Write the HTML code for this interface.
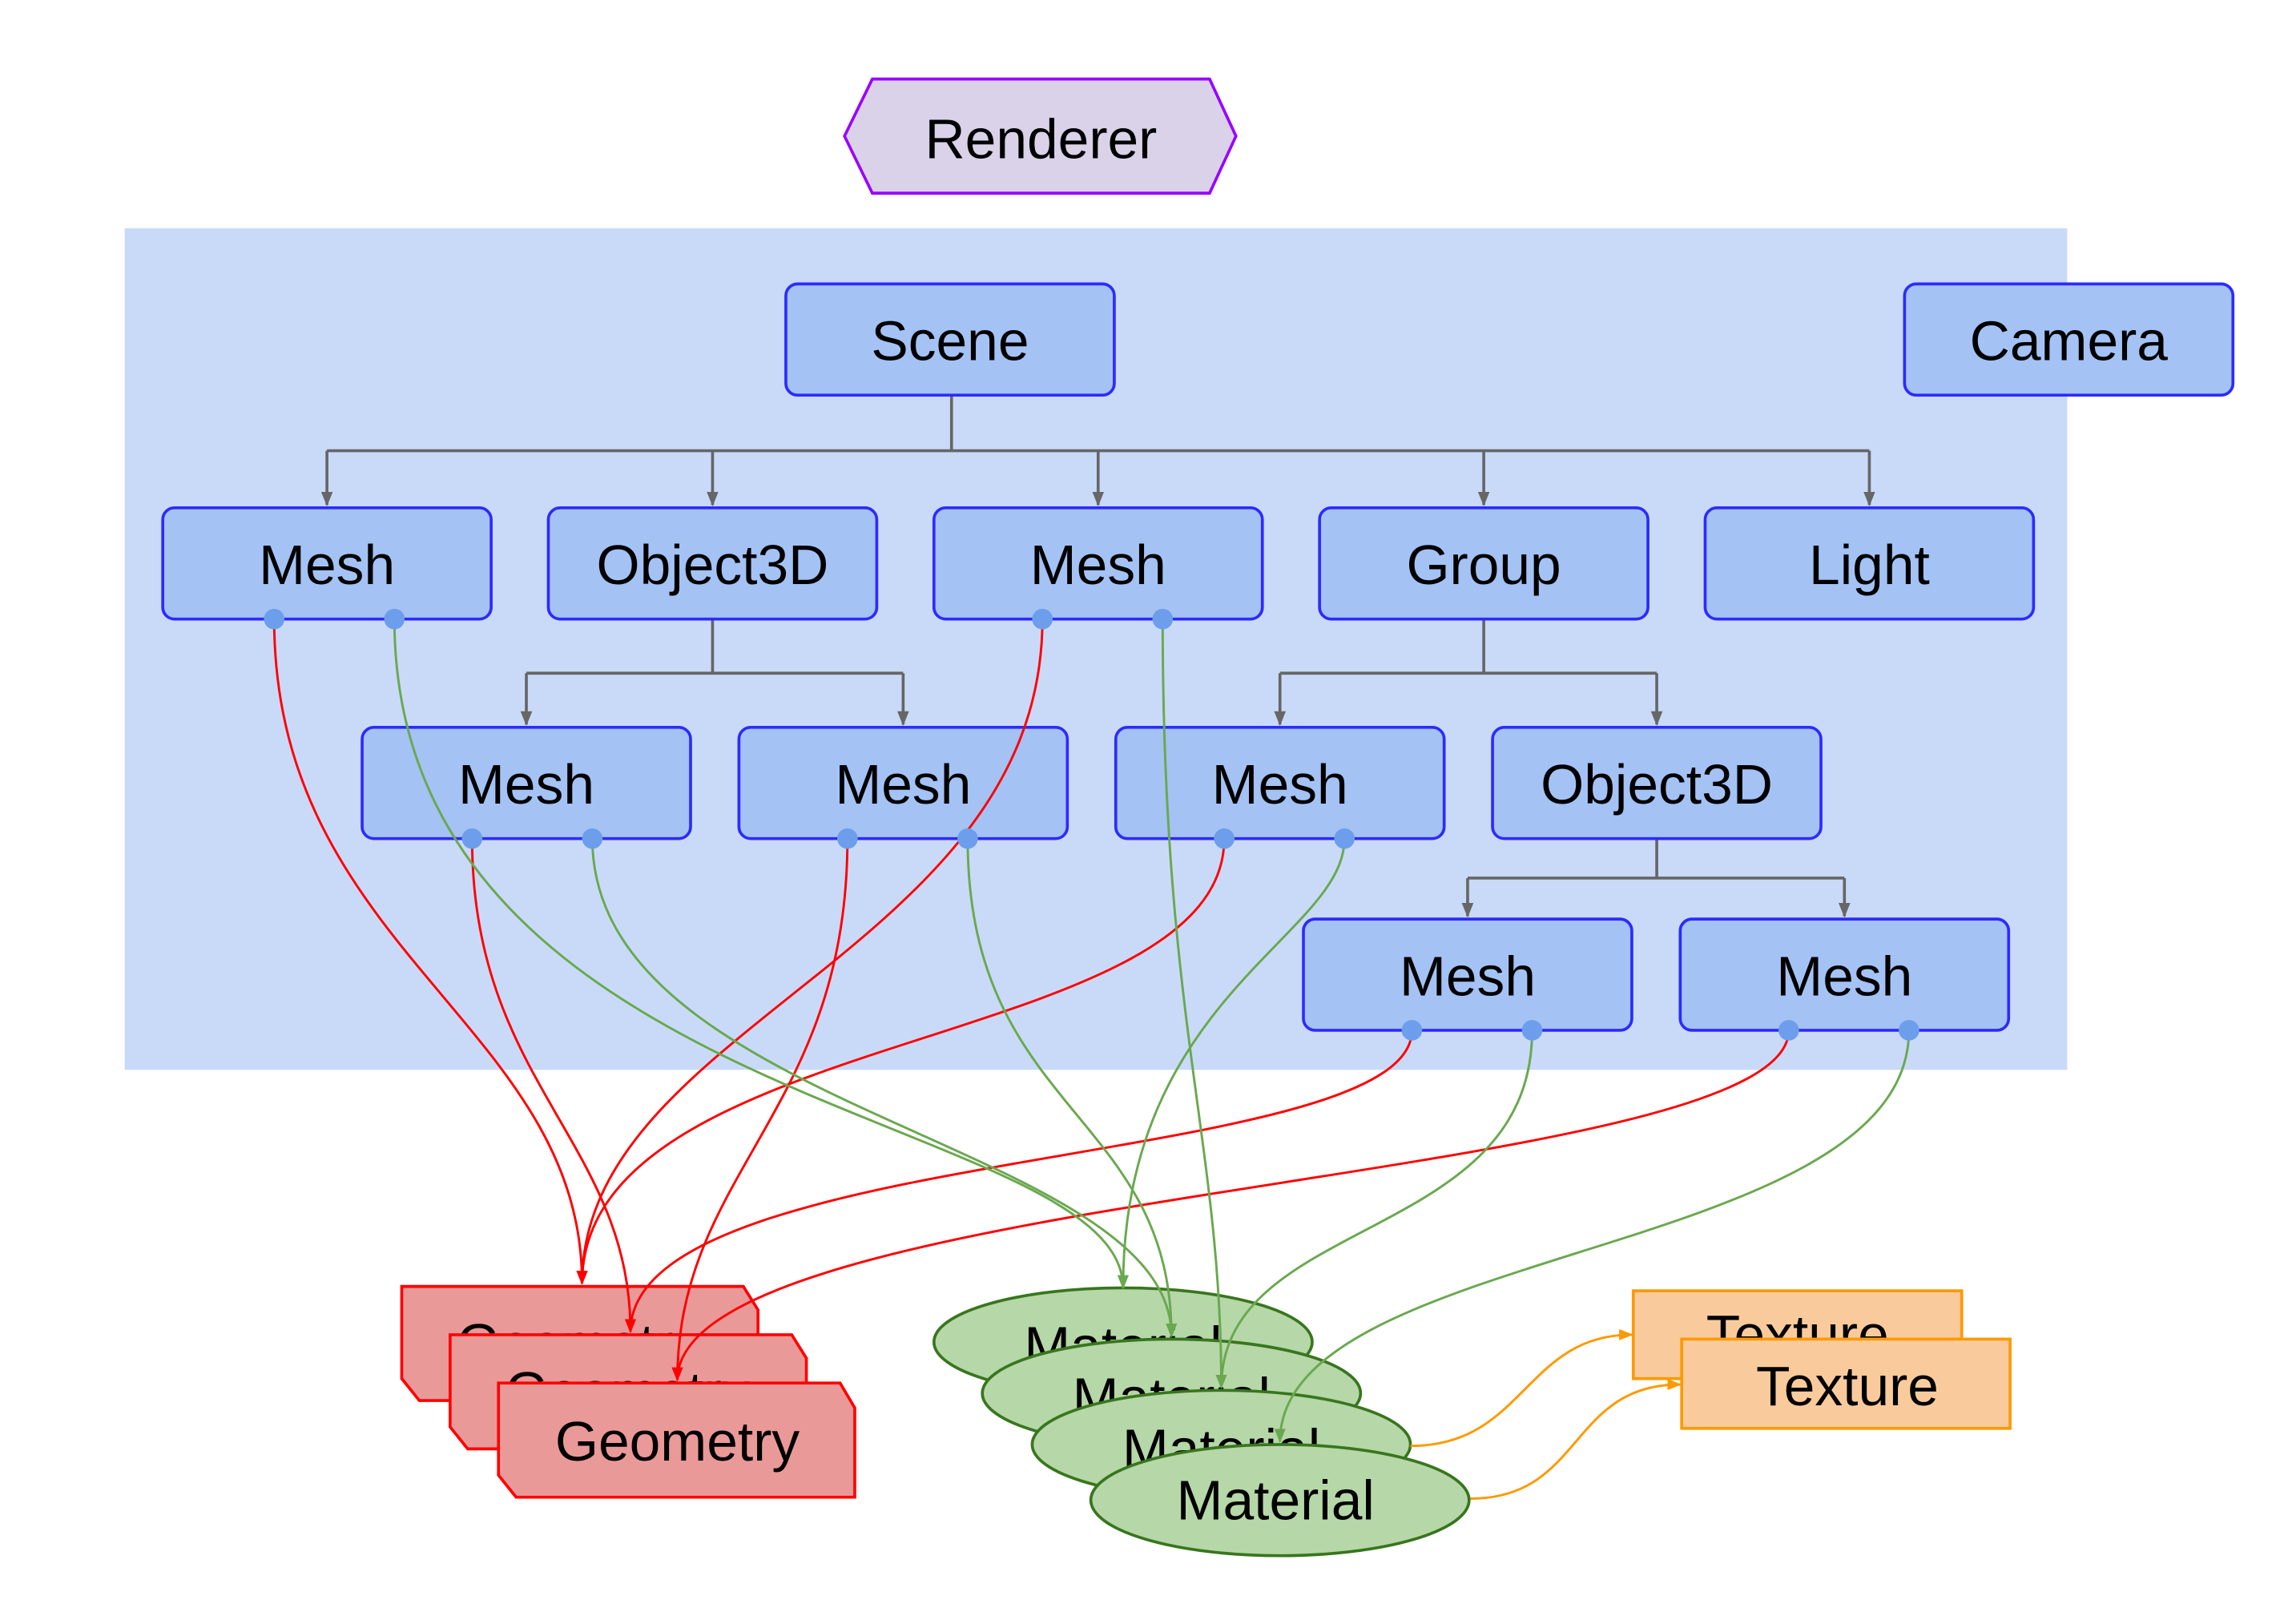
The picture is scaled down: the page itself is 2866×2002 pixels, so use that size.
<!DOCTYPE html>
<html><head><meta charset="utf-8"><style>
html,body{margin:0;padding:0;background:#fff;}
svg{display:block;}
text{font-family:"Liberation Sans",sans-serif;font-size:38px;fill:#000;stroke:none;text-anchor:middle;dominant-baseline:central;}
</style></head><body>
<svg width="2866" height="2002" viewBox="0 0 1566 1096" preserveAspectRatio="none" xmlns="http://www.w3.org/2000/svg">
<defs>
<marker id="ag" viewBox="0 0 10 10" refX="9" refY="5" markerWidth="5" markerHeight="5" orient="auto"><path d="M0,1 L10,5 L0,9z" fill="#666"/></marker>
<marker id="ar" viewBox="0 0 10 10" refX="9" refY="5" markerWidth="6" markerHeight="6" orient="auto"><path d="M0,1 L10,5 L0,9z" fill="#f00"/></marker>
<marker id="agr" viewBox="0 0 10 10" refX="9" refY="5" markerWidth="6" markerHeight="6" orient="auto"><path d="M0,1 L10,5 L0,9z" fill="#6aa84f"/></marker>
<marker id="ao" viewBox="0 0 10 10" refX="9" refY="5" markerWidth="6" markerHeight="6" orient="auto"><path d="M0,1 L10,5 L0,9z" fill="#f90"/></marker>
</defs>
<polygon points="595,54 825,54 843,93 825,132 595,132 576,93" fill="#d9d2e9" stroke="#9900ff" stroke-width="2"/>
<text x="710" y="95">Renderer</text>
<rect x="85" y="156" width="1325" height="575" fill="#c9daf8"/>
<g fill="none" stroke="#666" stroke-width="2">
<path d="M649,270 V308 M223,308 H1275"/>
<path d="M223,308 V345" marker-end="url(#ag)"/>
<path d="M486,308 V345" marker-end="url(#ag)"/>
<path d="M749,308 V345" marker-end="url(#ag)"/>
<path d="M1012,308 V345" marker-end="url(#ag)"/>
<path d="M1275,308 V345" marker-end="url(#ag)"/>
<path d="M486,423 V460 M359,460 H616 M1012,423 V460 M873,460 H1130 M1130,573 V600 M1001,600 H1258"/>
<path d="M359,460 V495" marker-end="url(#ag)"/>
<path d="M616,460 V495" marker-end="url(#ag)"/>
<path d="M873,460 V495" marker-end="url(#ag)"/>
<path d="M1130,460 V495" marker-end="url(#ag)"/>
<path d="M1001,600 V626" marker-end="url(#ag)"/>
<path d="M1258,600 V626" marker-end="url(#ag)"/>
</g>
<g fill="#a4c2f4" stroke="#2b2bff" stroke-width="2">
<rect x="536" y="194" width="224" height="76" rx="8"/>
<rect x="1299" y="194" width="224" height="76" rx="8"/>
<rect x="111" y="347" width="224" height="76" rx="8"/>
<rect x="374" y="347" width="224" height="76" rx="8"/>
<rect x="637" y="347" width="224" height="76" rx="8"/>
<rect x="900" y="347" width="224" height="76" rx="8"/>
<rect x="1163" y="347" width="224" height="76" rx="8"/>
<rect x="247" y="497" width="224" height="76" rx="8"/>
<rect x="504" y="497" width="224" height="76" rx="8"/>
<rect x="761" y="497" width="224" height="76" rx="8"/>
<rect x="1018" y="497" width="224" height="76" rx="8"/>
<rect x="889" y="628" width="224" height="76" rx="8"/>
<rect x="1146" y="628" width="224" height="76" rx="8"/>
</g>
<text x="648" y="233">Scene</text><text x="1411" y="233">Camera</text>
<text x="223" y="386">Mesh</text><text x="486" y="386">Object3D</text><text x="749" y="386">Mesh</text><text x="1012" y="386">Group</text><text x="1275" y="386">Light</text>
<text x="359" y="536">Mesh</text><text x="616" y="536">Mesh</text><text x="873" y="536">Mesh</text><text x="1130" y="536">Object3D</text>
<text x="1001" y="667">Mesh</text><text x="1258" y="667">Mesh</text>
<g fill="#ea9999" stroke="#f00" stroke-width="2">
<polygon points="274,879 507,879 517,895 517,957 286,957 274,942"/>
<text x="395" y="918">Geometry</text>
<polygon points="307,912 540,912 550,928 550,990 319,990 307,975"/>
<text x="428" y="951">Geometry</text>
<polygon points="340,945 573,945 583,962 583,1023 352,1023 340,1008"/>
<text x="462" y="985">Geometry</text>
</g>
<g fill="#b6d7a8" stroke="#38761d" stroke-width="2">
<ellipse cx="766" cy="917" rx="129" ry="37"/><text x="766" y="920">Material</text>
<ellipse cx="799" cy="952" rx="129" ry="37"/><text x="799" y="955">Material</text>
<ellipse cx="833" cy="987" rx="129" ry="37"/><text x="833" y="990">Material</text>
<ellipse cx="873" cy="1025" rx="129" ry="38"/><text x="870" y="1025">Material</text>
</g>
<g fill="#f9cb9c" stroke="#f90" stroke-width="2">
<rect x="1114" y="882" width="224" height="60"/><text x="1226" y="912">Texture</text>
<rect x="1147" y="915" width="224" height="61"/><text x="1260" y="947">Texture</text>
</g>
<g fill="none" stroke-width="1.6">
<g stroke="#f00" marker-end="url(#ar)">
<path d="M187,423 C187,650 397,700 397,877"/>
<path d="M711,423 C711,650 397,700 397,877"/>
<path d="M835,573 C835,720 397,700 397,877"/>
<path d="M322,573 C322,740 430,780 430,910"/>
<path d="M963,704 C963,800 430,780 430,910"/>
<path d="M578,573 C578,760 462,800 462,943"/>
<path d="M1220,704 C1220,810 462,810 462,943"/>
</g>
<g stroke="#6aa84f" marker-end="url(#agr)">
<path d="M269,423 C269,760 766,760 766,880"/>
<path d="M404,573 C404,760 799,780 799,913"/>
<path d="M917,573 C917,640 766,680 766,880"/>
<path d="M660,573 C660,760 799,760 799,913"/>
<path d="M793,423 C793,700 833,780 833,948"/>
<path d="M1045,704 C1045,850 833,830 833,948"/>
<path d="M1302,704 C1302,860 873,850 873,985"/>
</g>
<g stroke="#f90" marker-end="url(#ao)">
<path d="M962,988 C1040,988 1040,912 1113,912"/>
<path d="M1003,1024 C1080,1024 1070,946 1146,946"/>
</g>
</g>
<g fill="#6d9eeb">
<circle cx="187" cy="423" r="7"/><circle cx="269" cy="423" r="7"/>
<circle cx="711" cy="423" r="7"/><circle cx="793" cy="423" r="7"/>
<circle cx="322" cy="573" r="7"/><circle cx="404" cy="573" r="7"/>
<circle cx="578" cy="573" r="7"/><circle cx="660" cy="573" r="7"/>
<circle cx="835" cy="573" r="7"/><circle cx="917" cy="573" r="7"/>
<circle cx="963" cy="704" r="7"/><circle cx="1045" cy="704" r="7"/>
<circle cx="1220" cy="704" r="7"/><circle cx="1302" cy="704" r="7"/>
</g>
</svg>
</body></html>
